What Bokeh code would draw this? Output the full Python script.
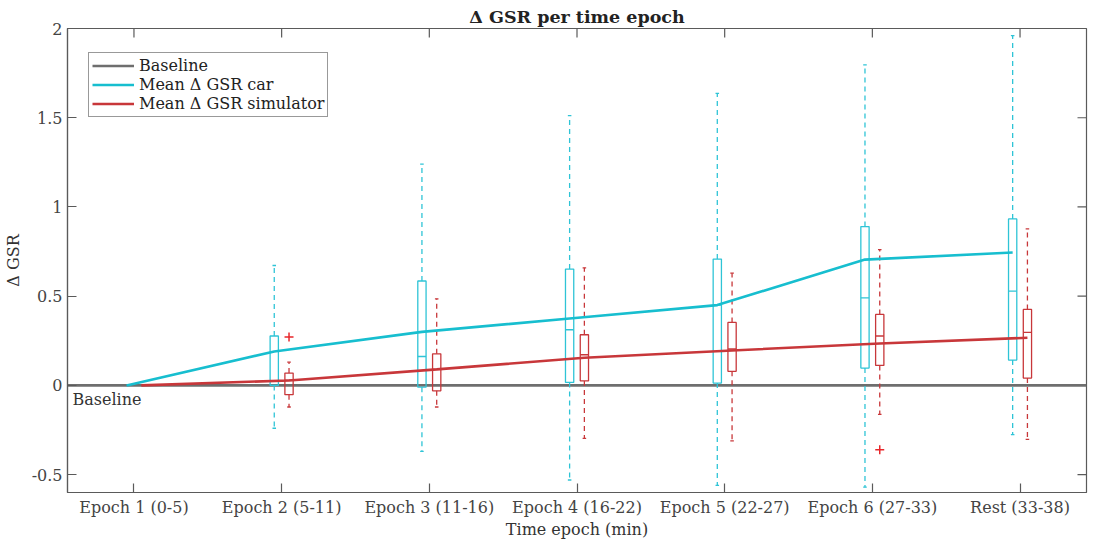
from bokeh.plotting import figure
from bokeh.models import Range1d, FixedTicker, Legend, LegendItem, Label
from bokeh.embed import file_html
from bokeh.resources import INLINE

categories = ["Epoch 1 (0-5)", "Epoch 2 (5-11)", "Epoch 3 (11-16)", "Epoch 4 (16-22)",
              "Epoch 5 (22-27)", "Epoch 6 (27-33)", "Rest (33-38)"]
mean_car = [0.0, 0.19, 0.30, 0.375, 0.45, 0.705, 0.745]
mean_sim = [0.0, 0.028, 0.09, 0.155, 0.196, 0.235, 0.267]

box_epochs = [2, 3, 4, 5, 6, 7]
car_whisk_lo = [-0.24, -0.37, -0.53, -0.56, -0.57, -0.276]
car_q1 = [0.0, -0.01, 0.017, 0.013, 0.097, 0.142]
car_med = [0.0, 0.162, 0.312, 0.45, 0.491, 0.528]
car_q3 = [0.277, 0.585, 0.652, 0.708, 0.89, 0.933]
car_whisk_hi = [0.672, 1.24, 1.512, 1.637, 1.796, 1.96]

sim_whisk_lo = [-0.121, -0.121, -0.297, -0.311, -0.162, -0.302]
sim_q1 = [-0.052, -0.03, 0.025, 0.079, 0.112, 0.041]
sim_med = [0.03, 0.09, 0.172, 0.204, 0.277, 0.297]
sim_q3 = [0.069, 0.177, 0.284, 0.353, 0.398, 0.426]
sim_whisk_hi = [0.13, 0.485, 0.659, 0.629, 0.761, 0.877]

sim_out_epoch = [2, 6]
sim_out_val = [0.271, -0.36]

y_ticks = [-0.5, 0, 0.5, 1, 1.5, 2]
y_tick_labels = ["-0.5", "0", "0.5", "1", "1.5", "2"]

FONT = "DejaVu Serif"
CAR = "#17BECF"
CAR_BOX = "#2EC4D6"
SIM = "#C8373A"
SIM_OUT = "#E8262A"
BASE = "#6E6E6E"
AX = "#5A5A5A"

X0, X1 = 0.55, 7.45
Y0, Y1 = -0.6, 2.0
FW, FH = 1019, 464

OFF = 0.05
BW = 0.028
CAP = 0.012
TX = 9 * (X1 - X0) / FW
TY = 9 * (Y1 - Y0) / FH

p = figure(frame_width=FW, frame_height=FH,
           x_range=Range1d(X0, X1), y_range=Range1d(Y0, Y1),
           output_backend="svg", toolbar_location=None,
           min_border_left=59, min_border_right=3, min_border_top=28, min_border_bottom=10)

p.grid.visible = False
p.outline_line_color = AX
p.outline_line_width = 1.2
p.background_fill_color = "white"
p.border_fill_color = "white"

p.title.text = "Δ GSR per time epoch"
p.title.align = "center"
p.title.text_font = FONT
p.title.text_font_size = "17.5px"
p.title.text_font_style = "bold"
p.title.text_color = "#222222"
p.title.standoff = 3

xs = list(range(1, len(categories) + 1))

# top and right inward ticks (mirror of the bottom/left ticks)
p.segment(xs, [Y1] * len(xs), xs, [Y1 - TY] * len(xs), line_color=AX, line_width=1.2)
p.segment([X1] * len(y_ticks), y_ticks, [X1 - TX] * len(y_ticks), y_ticks, line_color=AX, line_width=1.2)

# baseline
base_r = p.line([X0, X1], [0, 0], line_color=BASE, line_width=2.6)

# car boxes
for i, e in enumerate(box_epochs):
    xc = e - OFF
    p.segment([xc, xc], [car_q3[i], car_q1[i]], [xc, xc], [car_whisk_hi[i], car_whisk_lo[i]],
              line_color=CAR_BOX, line_width=1.3, line_dash="5 4")
    p.segment([xc - CAP, xc - CAP], [car_whisk_hi[i], car_whisk_lo[i]],
              [xc + CAP, xc + CAP], [car_whisk_hi[i], car_whisk_lo[i]],
              line_color=CAR_BOX, line_width=1.3)
    p.quad(left=[xc - BW], right=[xc + BW], bottom=[car_q1[i]], top=[car_q3[i]],
           fill_color=None, line_color=CAR_BOX, line_width=1.3)
    p.segment([xc - BW], [car_med[i]], [xc + BW], [car_med[i]], line_color=CAR_BOX, line_width=1.3)

# sim boxes
for i, e in enumerate(box_epochs):
    xc = e + OFF
    p.segment([xc, xc], [sim_q3[i], sim_q1[i]], [xc, xc], [sim_whisk_hi[i], sim_whisk_lo[i]],
              line_color=SIM, line_width=1.3, line_dash="5 4")
    p.segment([xc - CAP, xc - CAP], [sim_whisk_hi[i], sim_whisk_lo[i]],
              [xc + CAP, xc + CAP], [sim_whisk_hi[i], sim_whisk_lo[i]],
              line_color=SIM, line_width=1.3)
    p.quad(left=[xc - BW], right=[xc + BW], bottom=[sim_q1[i]], top=[sim_q3[i]],
           fill_color=None, line_color=SIM, line_width=1.3)
    p.segment([xc - BW], [sim_med[i]], [xc + BW], [sim_med[i]], line_color=SIM, line_width=1.3)

p.scatter([e + OFF for e in sim_out_epoch], sim_out_val, marker="cross", size=9,
          line_color=SIM_OUT, line_width=1.5)

car_r = p.line([x - OFF for x in xs], mean_car, line_color=CAR, line_width=2.6)
sim_r = p.line([x + OFF for x in xs], mean_sim, line_color=SIM, line_width=2.6)

p.add_layout(Label(x=X0, y=0, x_offset=5, y_offset=-5, text="Baseline",
                   text_font=FONT, text_font_size="16px", text_color="#333333",
                   text_baseline="top", text_align="left"))

# axes
for ax in (p.xaxis[0], p.yaxis[0]):
    ax.axis_line_color = AX
    ax.axis_line_width = 1.2
    ax.major_tick_line_color = AX
    ax.major_tick_line_width = 1.2
    ax.major_tick_in = 9
    ax.major_tick_out = 0
    ax.minor_tick_line_color = None
    ax.major_label_text_font = FONT
    ax.major_label_text_font_size = "16px"
    ax.major_label_text_color = "#444444"
    ax.axis_label_text_font = FONT
    ax.axis_label_text_font_size = "16px"
    ax.axis_label_text_font_style = "normal"
    ax.axis_label_text_color = "#333333"

p.xaxis[0].ticker = FixedTicker(ticks=xs)
p.xaxis[0].major_label_overrides = {x: c for x, c in zip(xs, categories)}
p.xaxis[0].axis_label = "Time epoch (min)"
p.xaxis[0].axis_label_standoff = 0
p.xaxis[0].major_label_standoff = 5

p.yaxis[0].ticker = FixedTicker(ticks=y_ticks)
p.yaxis[0].major_label_overrides = {t: l for t, l in zip(y_ticks, y_tick_labels)}
p.yaxis[0].axis_label = "Δ GSR"
p.yaxis[0].axis_label_standoff = 6
p.yaxis[0].major_label_standoff = 5

legend = Legend(items=[LegendItem(label="Baseline", renderers=[base_r]),
                       LegendItem(label="Mean Δ GSR car", renderers=[car_r]),
                       LegendItem(label="Mean Δ GSR simulator", renderers=[sim_r])],
                location=(21, 375))
legend.label_text_font = FONT
legend.label_text_font_size = "16px"
legend.label_text_color = "#222222"
legend.glyph_width = 42
legend.glyph_height = 17
legend.label_height = 17
legend.label_standoff = 5
legend.spacing = 0
legend.padding = 3
legend.margin = 0
legend.border_line_color = "#333333"
legend.border_line_width = 1
legend.background_fill_alpha = 1
p.add_layout(legend, "center")

open("out.html", "w").write(file_html(p, INLINE))
